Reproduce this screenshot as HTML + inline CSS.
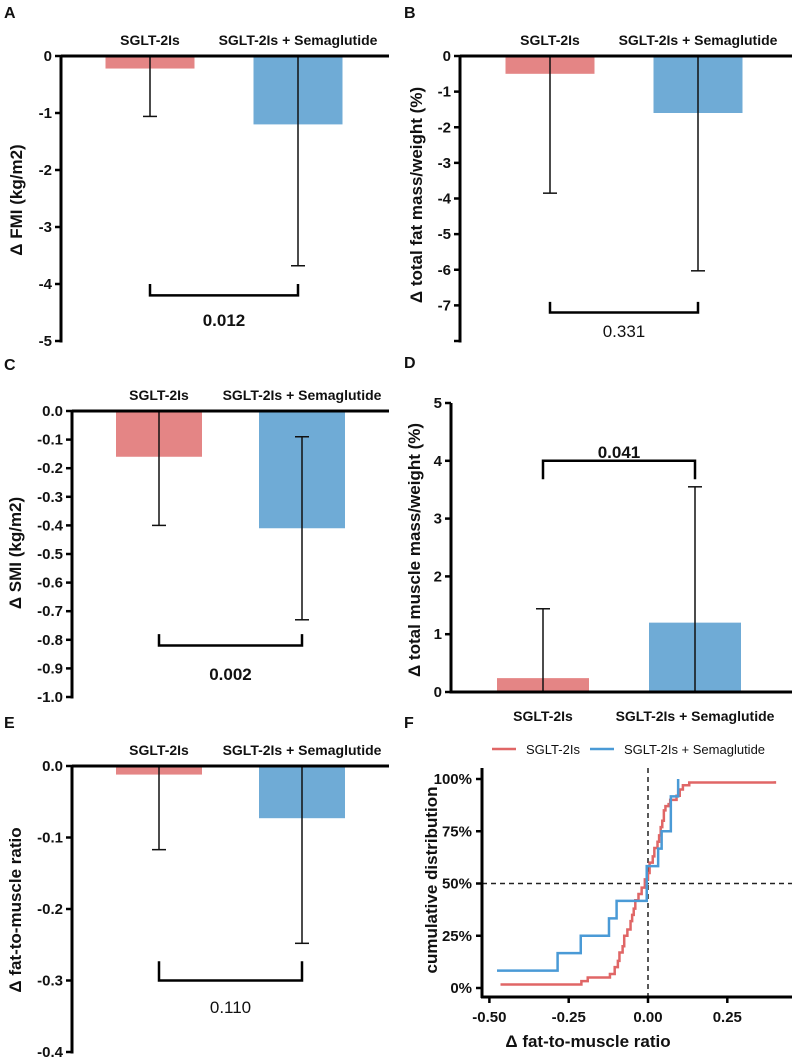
<!DOCTYPE html>
<html><head><meta charset="utf-8"><style>
html,body{margin:0;padding:0;background:#fff;}
svg{display:block;font-family:"Liberation Sans",Arial,sans-serif;}
</style></head><body>
<svg id="fig" width="792" height="1062" viewBox="0 0 792 1062" xmlns="http://www.w3.org/2000/svg"></svg>
<script>
// ---- data ----
const groups = ["SGLT-2Is", "SGLT-2Is + Semaglutide"];
const aMeans = [-0.22, -1.2];   const aLow = [-1.06, -3.68]; const aHigh = [0.62, 1.28];
const bMeans = [-0.5, -1.6];    const bLow = [-3.85, -6.03]; const bHigh = [2.85, 2.83];
const cMeans = [-0.16, -0.41];  const cLow = [-0.40, -0.73]; const cHigh = [0.08, -0.09];
const dMeans = [0.24, 1.2];     const dLow = [-0.96, -1.15]; const dHigh = [1.44, 3.55];
const eMeans = [-0.012, -0.073];const eLow = [-0.117, -0.248]; const eHigh = [0.093, 0.102];
const pValues = ["0.012", "0.331", "0.002", "0.041", "0.110"];
const aTicks = [0, -1, -2, -3, -4, -5];
const bTicks = [0, -1, -2, -3, -4, -5, -6, -7, -8];
const cTicks = [0, -0.1, -0.2, -0.3, -0.4, -0.5, -0.6, -0.7, -0.8, -0.9, -1.0];
const dTicks = [0, 1, 2, 3, 4, 5];
const eTicks = [0, -0.1, -0.2, -0.3, -0.4];
// CDF data (x value, cumulative %)
const redX = [-0.465,-0.21,-0.19,-0.12,-0.105,-0.095,-0.09,-0.08,-0.075,-0.065,-0.055,-0.05,-0.045,-0.04,-0.03,-0.02,-0.01,0.0,0.005,0.015,0.02,0.03,0.035,0.04,0.045,0.05,0.055,0.065,0.07,0.09,0.1,0.11,0.13,0.40];
const redY = [1.7,3.3,5,6.7,10,13,17,20,25,28,32,35,38,42,45,48,52,55,60,63,67,70,73,77,80,85,87,88,90,92,95,97,98.3,99];
const blueX = [-0.476,-0.285,-0.212,-0.123,-0.099,-0.004,0.032,0.043,0.072,0.095];
const blueY = [8.3,16.7,25,33.3,41.7,58.3,66.7,75,91.7,100];
const fXTicks = [-0.5, -0.25, 0, 0.25];
const fXLabels = ["-0.50", "-0.25", "0.00", "0.25"];
const fYTicks = [0, 25, 50, 75, 100];

const svg = document.getElementById('fig');
const NS = 'http://www.w3.org/2000/svg';
function mk(tag, attrs, parent) {
  const e = document.createElementNS(NS, tag);
  for (const k in attrs) e.setAttribute(k, attrs[k]);
  (parent || svg).appendChild(e);
  return e;
}
function txt(s, x, y, size, weight, anchor, parent) {
  const t = mk('text', {x: x, y: y, 'font-size': size, 'font-weight': weight, 'text-anchor': anchor, fill: '#111'}, parent);
  t.textContent = s;
  return t;
}
const colors = ['#e48585', '#6fabd6'];

function barPanel(cfg, means, low, high, ticks, fmt, pval, pBold) {
  const g = mk('g', {});
  
  
  const y = v => cfg.yTop + (cfg.dMax - v) / (cfg.dMax - cfg.dMin) * (cfg.yBot - cfg.yTop);
  const L = txt(cfg.letter, cfg.lx, cfg.ly, 16, 'bold', 'start', g);
  
  
  means.forEach((m, i) => {
    const cx = cfg.centers[i];
    const r = mk('rect', {x: cx - cfg.bw / 2, y: Math.min(y(m), y(0)), width: cfg.bw, height: Math.abs(y(m) - y(0)), fill: colors[i]}, g);
    
    
  });
  means.forEach((m, i) => {
    const cx = cfg.centers[i];
    let lo = Math.max(low[i], cfg.dMin), hi = Math.min(high[i], cfg.dMax);
    let a = lo, b = hi;
    if (cfg.dMax === 0) b = Math.min(hi, 0); else a = Math.max(lo, 0);
    const l = mk('line', {x1: cx, x2: cx, y1: y(a), y2: y(b), stroke: '#111', 'stroke-width': 1.5}, g);
    
    
    [a, b].forEach(v => {
      if (v !== 0) mk('line', {x1: cx - 7, x2: cx + 7, y1: y(v), y2: y(v), stroke: '#111', 'stroke-width': 1.5}, g);
    });
  });
  const ya = mk('line', {x1: cfg.ax, x2: cfg.ax, y1: cfg.yTop, y2: cfg.yBot + 1.5, stroke: '#000', 'stroke-width': 3}, g);
  
  
  const xa = mk('line', {x1: cfg.ax, x2: cfg.xEnd, y1: y(0), y2: y(0), stroke: '#000', 'stroke-width': 3}, g);
  
  
  ticks.forEach((t, i) => {
    mk('line', {x1: cfg.ax - 6, x2: cfg.ax, y1: y(t), y2: y(t), stroke: '#000', 'stroke-width': 2.5}, g);
    if (cfg.skipLast && i === ticks.length - 1) return;
    const tl = txt(fmt(t), cfg.ax - 9, y(t) + 5, 15, 'bold', 'end', g);
    
    
  });
  groups.forEach((s, i) => {
    const c = txt(s, cfg.centers[i], cfg.catY, 14, 'bold', 'middle', g);
    
    
  });
  const tt = txt(cfg.title, 0, 0, 17, 'bold', 'middle', g);
  tt.setAttribute('transform', `translate(${cfg.tx},${cfg.ty}) rotate(-90)`);
  
  
  const c0 = cfg.centers[0], c1 = cfg.centers[1];
  const by = y(cfg.brY), bt = y(cfg.brTick);
  const br = mk('path', {d: `M${c0},${bt} V${by} H${c1} V${bt}`, fill: 'none', stroke: '#000', 'stroke-width': 2.5}, g);
  
  
  const pt = txt(pval, (c0 + c1) / 2, cfg.pY, 17, pBold ? 'bold' : 'normal', 'middle', g);
  
  
}
const f0 = v => String(v);
const f1 = v => v.toFixed(1);

barPanel({name:'panel-a', letter:'A', lx:4, ly:18, ax:61, xEnd:389, yTop:56, yBot:341, dMin:-5, dMax:0,
  centers:[150,298], bw:89, catY:45, title:'Δ FMI (kg/m2)', tx:22, ty:200, brY:-4.2, brTick:-4.0, pY:326},
  aMeans, aLow, aHigh, aTicks, f0, pValues[0], true);
barPanel({name:'panel-b', letter:'B', lx:404, ly:18, ax:460, xEnd:792, yTop:56, yBot:341, dMin:-8, dMax:0, skipLast:true,
  centers:[550,698], bw:89, catY:45, title:'Δ total fat mass/weight (%)', tx:422, ty:195, brY:-7.2, brTick:-6.9, pY:337},
  bMeans, bLow, bHigh, bTicks, f0, pValues[1], false);
barPanel({name:'panel-c', letter:'C', lx:4, ly:370, ax:72, xEnd:389, yTop:411, yBot:697, dMin:-1, dMax:0,
  centers:[159,302], bw:86, catY:400, title:'Δ SMI (kg/m2)', tx:21, ty:553, brY:-0.82, brTick:-0.78, pY:680},
  cMeans, cLow, cHigh, cTicks, f1, pValues[2], true);
barPanel({name:'panel-d', letter:'D', lx:404, ly:368, ax:451, xEnd:792, yTop:403, yBot:692, dMin:0, dMax:5,
  centers:[543,695], bw:92, catY:721, title:'Δ total muscle mass/weight (%)', tx:420, ty:550, brY:4.0, brTick:3.68, pY:458},
  dMeans, dLow, dHigh, dTicks, f0, pValues[3], true);
barPanel({name:'panel-e', letter:'E', lx:4, ly:728, ax:72, xEnd:389, yTop:766, yBot:1052, dMin:-0.4, dMax:0,
  centers:[159,302], bw:86, catY:755, title:'Δ fat-to-muscle ratio', tx:21, ty:910, brY:-0.3, brTick:-0.273, pY:1013},
  eMeans, eLow, eHigh, eTicks, f1, pValues[4], false);

// ---- panel F ----
(function(){
  const g = mk('g', {});
  
  
  const X = v => 648 + v * 317.2;
  const Y = p => 988 - p * 2.09;
  const L = txt('F', 404, 728, 16, 'bold', 'start', g);
  
  
  [['SGLT-2Is', 492, '#e06666'], ['SGLT-2Is + Semaglutide', 590, '#4a9ad6']].forEach((d, i) => {
    const lg = mk('g', {}, g);
    
    
    mk('line', {x1: d[1], x2: d[1] + 24, y1: 749, y2: 749, stroke: d[2], 'stroke-width': 2.5}, lg);
    txt(d[0], d[1] + 34, 754, 13, 'normal', 'start', lg);
  });
  const v0 = mk('line', {x1: X(0), x2: X(0), y1: 768, y2: 997, stroke: '#222', 'stroke-width': 1.5, 'stroke-dasharray': '5,4'}, g);
  
  
  const h50 = mk('line', {x1: 482, x2: 792, y1: Y(50), y2: Y(50), stroke: '#222', 'stroke-width': 1.5, 'stroke-dasharray': '5,4'}, g);
  
  
  function step(xs, ys, color, name) {
    let d = `M${X(xs[0])},${Y(ys[0])}`;
    for (let i = 1; i < xs.length; i++) d += ` H${X(xs[i])} V${Y(ys[i])}`;
    const p = mk('path', {d: d, fill: 'none', stroke: color, 'stroke-width': 2.5}, g);
    
    
  }
  step(redX, redY, '#e06666', 'cdf-line-sglt2');
  step(blueX, blueY, '#4a9ad6', 'cdf-line-combo');
  const ya = mk('line', {x1: 482, x2: 482, y1: 768, y2: 998, stroke: '#000', 'stroke-width': 3}, g);
  
  
  const xa = mk('line', {x1: 481, x2: 792, y1: 997, y2: 997, stroke: '#000', 'stroke-width': 3}, g);
  
  
  fYTicks.forEach(t => {
    mk('line', {x1: 476, x2: 482, y1: Y(t), y2: Y(t), stroke: '#000', 'stroke-width': 2.5}, g);
    const tl = txt(t + '%', 472, Y(t) + 5, 15, 'bold', 'end', g);
    
    
  });
  fXTicks.forEach((t, i) => {
    mk('line', {x1: X(t), x2: X(t), y1: 997, y2: 1003, stroke: '#000', 'stroke-width': 2.5}, g);
    const tl = txt(fXLabels[i], X(t), 1022, 15, 'bold', 'middle', g);
    
    
  });
  const xt = txt('Δ fat-to-muscle ratio', 588, 1047, 17, 'bold', 'middle', g);
  
  
  const yt = txt('cumulative distribution', 0, 0, 17, 'bold', 'middle', g);
  yt.setAttribute('transform', 'translate(437,880) rotate(-90)');
  
  
})();
</script>
</body></html>
